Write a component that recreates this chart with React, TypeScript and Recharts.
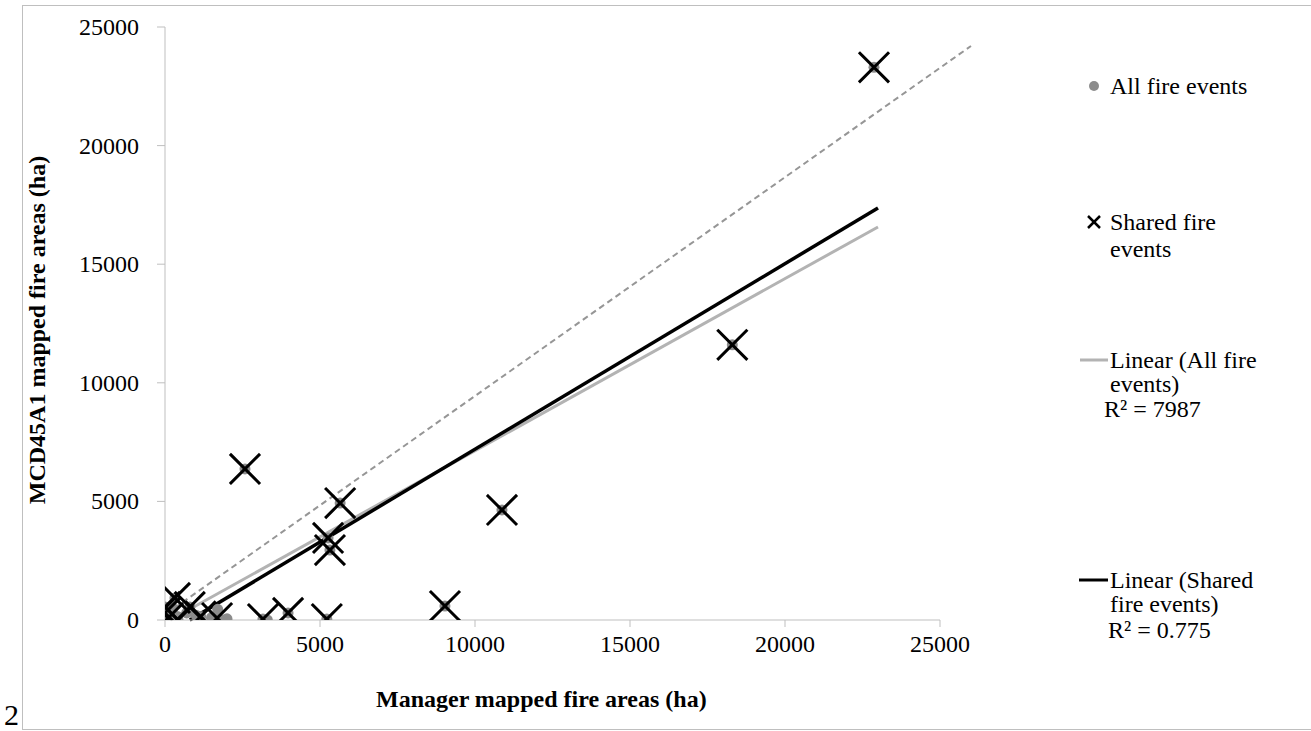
import { ScatterChart, Scatter, XAxis, YAxis, ReferenceLine } from 'recharts';

// managed vs MCD45A1 burned area (ha)
const sharedX = [22870, 18300, 10870, 9030, 2580, 5650, 5260, 5320, 5220, 3970, 3160, 0, 320, 0, 100, 420, 800, 1680, 1150];
const sharedY = [23300, 11600, 4640, 590, 6370, 4930, 3460, 2950, 40, 300, 40, 550, 930, 300, 80, 0, 550, 80, 150];

const extraX = [1900, 3300, 700, 1500, 400, 2000, 250, 1000, 1700];
const extraY = [0, 0, 300, 100, 150, 50, 500, 200, 450];

const xTicks = [0, 5000, 10000, 15000, 20000, 25000];
const yTicks = [0, 5000, 10000, 15000, 20000, 25000];

// trend line end points
const trendAll = [{ x: 170, y: 0 }, { x: 23000, y: 16570 }];
const trendShared = [{ x: 800, y: 0 }, { x: 23000, y: 17370 }];
const oneToOne = [{ x: 300, y: 500 }, { x: 26000, y: 24200 }];

const shared = sharedX.map((x, i) => ({ x, y: sharedY[i] }));
const all = [...shared, ...extraX.map((x, i) => ({ x, y: extraY[i] }))];

const serif = '"Liberation Serif", "Times New Roman", serif';
const axisGray = '#bfbfbf';

const Cross = (props: any) => {
  const { cx, cy } = props;
  const s = 14;
  return (
    <g stroke="#000" strokeWidth={3} strokeLinecap="square">
      <line x1={cx - s} y1={cy - s} x2={cx + s} y2={cy + s} />
      <line x1={cx - s} y1={cy + s} x2={cx + s} y2={cy - s} />
    </g>
  );
};

const Dot = (props: any) => <circle cx={props.cx} cy={props.cy} r={5.5} fill="#8c8c8c" />;

const tickStyle = { fontFamily: serif, fontSize: 24, fill: '#000' };

const XTick = (props: any) => (
  <text x={props.x} y={props.y + 17} textAnchor="middle" style={tickStyle}>
    {props.payload.value}
  </text>
);

const YTick = (props: any) => (
  <text x={props.x} y={props.y + 8} textAnchor="end" style={tickStyle}>
    {props.payload.value}
  </text>
);

const txt: any = { position: 'absolute', fontFamily: serif, fontSize: 24, lineHeight: '24px', color: '#000', whiteSpace: 'nowrap' };

export default function App() {
  return (
    <div style={{ position: 'absolute', left: 0, top: 0, width: 1311, height: 731, background: '#fff', overflow: 'hidden', fontFamily: serif }}>
      <div style={{ position: 'absolute', left: 22, top: 5, width: 1300, height: 723, border: `1.5px solid ${axisGray}` }} />
      <div style={{ ...txt, left: 4, top: 700, fontSize: 30, lineHeight: '30px' }}>2</div>

      <div style={{ position: 'absolute', left: 0, top: 0 }}>
        <ScatterChart width={1311} height={731} margin={{ top: 27, right: 371, bottom: 81, left: 105 }} style={{ fontFamily: serif }}>
          <XAxis
            type="number"
            dataKey="x"
            domain={[0, 25000]}
            ticks={xTicks}
            interval={0}
            allowDataOverflow
            stroke={axisGray}
            tickSize={7}
            tickMargin={8}
            tick={XTick}
          />
          <YAxis
            type="number"
            dataKey="y"
            domain={[0, 25000]}
            ticks={yTicks}
            interval={0}
            allowDataOverflow
            stroke={axisGray}
            tickSize={8}
            tickMargin={18}
            tick={YTick}
          />
          <Scatter data={all} shape={Dot} isAnimationActive={false} />
          <Scatter data={shared} shape={Cross} isAnimationActive={false} />
          <ReferenceLine segment={oneToOne} stroke="#969696" strokeWidth={2} strokeDasharray="6 4" ifOverflow="visible" />
          <ReferenceLine segment={trendAll} stroke="#b3b3b3" strokeWidth={3} ifOverflow="visible" />
          <ReferenceLine segment={trendShared} stroke="#000" strokeWidth={3.5} ifOverflow="visible" />
        </ScatterChart>
      </div>

      <div style={{ ...txt, left: 376, top: 687, fontWeight: 'bold' }}>Manager mapped fire areas (ha)</div>
      <div
        style={{
          ...txt,
          fontWeight: 'bold',
          left: 37,
          top: 330,
          transform: 'translate(-50%, -50%) rotate(-90deg)',
        }}
      >
        MCD45A1 mapped fire areas (ha)
      </div>

      {/* legend */}
      <svg style={{ position: 'absolute', left: 0, top: 0 }} width={1311} height={731}>
        <circle cx={1094} cy={86} r={5} fill="#8c8c8c" />
        <g stroke="#000" strokeWidth={2.5}>
          <line x1={1088} y1={216} x2={1100} y2={228} />
          <line x1={1088} y1={228} x2={1100} y2={216} />
        </g>
        <line x1={1080} y1={360} x2={1108} y2={360} stroke="#b3b3b3" strokeWidth={3} />
        <line x1={1079} y1={580} x2={1108} y2={580} stroke="#000" strokeWidth={3} />
      </svg>
      <div style={{ ...txt, left: 1110, top: 74, lineHeight: '24px' }}>All fire events</div>
      <div style={{ ...txt, left: 1110, top: 209, lineHeight: '27px' }}>Shared fire<br />events</div>
      <div style={{ ...txt, left: 1110, top: 348 }}>Linear (All fire<br />events)</div>
      <div style={{ ...txt, left: 1104, top: 397 }}>R² = 7987</div>
      <div style={{ ...txt, left: 1110, top: 568 }}>Linear (Shared<br />fire events)</div>
      <div style={{ ...txt, left: 1108, top: 618 }}>R² = 0.775</div>
    </div>
  );
}
